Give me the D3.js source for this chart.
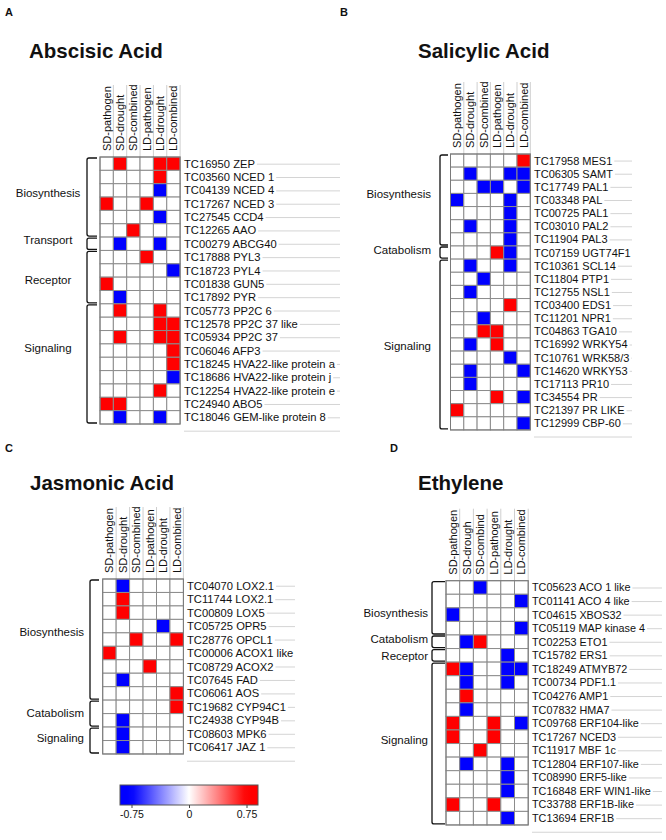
<!DOCTYPE html>
<html><head><meta charset="utf-8">
<script src="https://cdn.jsdelivr.net/npm/d3@7"></script>
<style>body{margin:0;background:#fff}text{font-family:Arial,"Liberation Sans",sans-serif;fill:#111}</style>
</head><body>
<svg id="c" width="666" height="840"></svg>
<script>
// ---------------- data ----------------
const conditions = ["SD-pathogen","SD-drought","SD-combined","LD-pathogen","LD-drought","LD-combined"];
const conditionsD = ["SD-pathogen","SD-drough","SD-combind","LD-pathogen","LD-drought","LD-combined"];

const abaGenes = ["TC16950 ZEP","TC03560 NCED 1","TC04139 NCED 4","TC17267 NCED 3","TC27545 CCD4","TC12265 AAO","TC00279 ABCG40","TC17888 PYL3","TC18723 PYL4","TC01838 GUN5","TC17892 PYR","TC05773 PP2C 6","TC12578 PP2C 37 like","TC05934 PP2C 37","TC06046 AFP3","TC18245 HVA22-like protein a","TC18686 HVA22-like protein j","TC12254 HVA22-like protein e","TC24940 ABO5","TC18046 GEM-like protein 8"];
const abaValues = [
 [0,0.75,0,0,0.75,0.75],[0,0,0,0,0.75,0],[0,0,0,0,-0.75,0],[0.75,0,0,0.75,0,0],
 [0,0,0,0,-0.75,0],[0,0,0.75,0,0,0],[0,-0.75,0,0,-0.75,0],[0,0,0,0.75,0,0],
 [0,0,0,0,0,-0.75],[0.75,0,0,0,0,0],[0,-0.75,0,0,0,0],[0,0.75,0,0,0.75,0],
 [0,0,0,0,0.75,0.75],[0,0.75,0,0,0.75,0.75],[0,0,0,0,0,0.75],[0,0,0,0,0,0.75],
 [0,0,0,0,0,-0.75],[0,0,0,0,0.75,0],[0.75,0.75,0,0,0,0],[0,-0.75,0,0,-0.75,0]];
const abaGroups = [
 {name:"Biosynthesis",from:0,to:5,at:2.7},{name:"Transport",from:6,to:6,at:6.2},
 {name:"Receptor",from:7,to:10,at:9.2},{name:"Signaling",from:11,to:19,at:14.3}];

const saGenes = ["TC17958 MES1","TC06305 SAMT","TC17749 PAL1","TC03348 PAL","TC00725 PAL1","TC03010 PAL2","TC11904 PAL3","TC07159 UGT74F1","TC10361 SCL14","TC11804 PTP1","TC12755 NSL1","TC03400 EDS1","TC11201 NPR1","TC04863 TGA10","TC16992 WRKY54","TC10761 WRK58/3","TC14620 WRKY53","TC17113 PR10","TC34554 PR","TC21397 PR LIKE","TC12999 CBP-60"];
const saValues = [
 [0,0,0,0,0,0.75],[0,-0.75,0,0,-0.75,-0.75],[0,0,-0.75,-0.75,0,-0.75],[-0.75,0,0,0,-0.75,0],
 [0,0,0,0,-0.75,0],[0,-0.75,0,0,-0.75,0],[0,0,0,0,-0.75,0],[0,0,0,0.75,-0.75,0],
 [0,-0.75,0,0,-0.75,0],[0,0,-0.75,0,0,0],[0,-0.75,0,0,0,0],[0,0,0,0,0.75,0],
 [0,0,-0.75,0,0,0],[0,0,0.75,0.75,0,0],[0,-0.75,0,0.75,0,0],[0,0,0,0,-0.75,0],
 [0,-0.75,0,0,0,-0.75],[0,-0.75,0,0,0,0],[0,0,0,0.75,0,-0.75],[0.75,0,0,0,0,0],
 [0,0,0,0,0,-0.75]];
const saGroups = [
 {name:"Biosynthesis",from:0,to:6,at:3.04},{name:"Catabolism",from:7,to:7,at:7.3},
 {name:"Signaling",from:8,to:20,at:14.6}];

const jaGenes = ["TC04070 LOX2.1","TC11744 LOX2.1","TC00809 LOX5","TC05725 OPR5","TC28776 OPCL1","TC00006 ACOX1 like","TC08729 ACOX2","TC07645 FAD","TC06061 AOS","TC19682 CYP94C1","TC24938 CYP94B","TC08603 MPK6","TC06417 JAZ 1"];
const jaValues = [
 [0,-0.75,0,0,0,0],[0,0.75,0,0,0,0],[0,0.75,0,0,0,0],[0,0,0,0,-0.75,0],
 [0,0,0.75,0,0,0.75],[0.75,0,0,0,0,0],[0,0,0,0.75,0,0],[0,-0.75,0,0,0,0],
 [0,0,0,0,0,0.75],[0,0,0,0,0,0.75],[0,-0.75,0,0,0,0],[0,-0.75,0,0,0,0],
 [0,-0.75,0,0,0,0]];
const jaGroups = [
 {name:"Biosynthesis",from:0,to:8,at:3.94},{name:"Catabolism",from:9,to:10,at:9.96},
 {name:"Signaling",from:11,to:12,at:11.8}];

const etGenes = ["TC05623 ACO 1 like","TC01141 ACO 4 like","TC04615 XBOS32","TC05119 MAP kinase 4","TC02253 ETO1","TC15782 ERS1","TC18249 ATMYB72","TC00734 PDF1.1","TC04276 AMP1","TC07832 HMA7","TC09768 ERF104-like","TC17267 NCED3","TC11917 MBF 1c","TC12804 ERF107-like","TC08990 ERF5-like","TC16848 ERF WIN1-like","TC33788 ERF1B-like","TC13694 ERF1B"];
const etValues = [
 [0,0,-0.75,0,0,0],[0,0,0,0,0,-0.75],[-0.75,0,0,0,0,0],[0,0,0,0,0,-0.75],
 [0,-0.75,0.75,0,0,0],[0,0,0,0,-0.75,0],[0.75,-0.75,0,0,-0.75,-0.75],[0,-0.75,0,0,-0.75,0],
 [0,0.75,0,0,0,0],[0,-0.75,0,0,0,0],[0.75,0,0,0.75,0,-0.75],[0.75,0,0,0.75,0,0],
 [0,0,0.75,0,0,0],[0,-0.75,0,0,-0.75,0],[0,0,0,0,-0.75,0],[0,0,0,0,-0.75,0],
 [0.75,0,0,0.75,0,0],[0,0,0,0,-0.75,0]];
const etGroups = [
 {name:"Biosynthesis",from:0,to:3,at:2.38},{name:"Catabolism",from:4,to:4,at:4.3},
 {name:"Receptor",from:5,to:5,at:5.55},{name:"Signaling",from:6,to:17,at:11.7}];

const colorDomain = [-0.75, 0, 0.75];
const colorRange = ["#0000ff", "#ffffff", "#ff0000"];
const legendTicks = [-0.75, 0, 0.75];
const legendTickLabels = ["-0.75", "0", "0.75"];

// ---------------- drawing ----------------
const svg = d3.select("#c");
const defs = svg.append("defs");
const color = d3.scaleLinear().domain(colorDomain).range(colorRange).clamp(true);

function panel(cfg, cols, genes, values, groups) {
  const g = svg.append("g");
  if (cfg.clip) {
    const id = "clip" + cfg.letter;
    defs.append("clipPath").attr("id", id).append("rect")
      .attr("x", cfg.clip[0]).attr("y", 0).attr("width", cfg.clip[1] - cfg.clip[0]).attr("height", 840);
    g.attr("clip-path", `url(#${id})`);
  }
  const nC = cols.length, nR = genes.length;
  const x = d3.scaleBand().domain(d3.range(nC)).range([cfg.x0, cfg.x0 + cfg.cw * nC]);
  const y = d3.scaleBand().domain(d3.range(nR)).range([cfg.y0, cfg.y0 + cfg.rh * nR]);
  const bx = i => cfg.x0 + i * x.bandwidth();
  const by = i => cfg.y0 + i * y.bandwidth();

  g.append("text").attr("x", cfg.letterX).attr("y", cfg.letterY)
    .attr("font-weight", "bold").attr("font-size", 11).text(cfg.letter);
  g.append("text").attr("x", cfg.titleX).attr("y", cfg.titleY)
    .attr("font-weight", "bold").attr("font-size", 20.5).text(cfg.title);

  // header separators
  g.append("g").selectAll("line").data(d3.range(1, nC + 1)).join("line")
    .attr("x1", i => bx(i)).attr("x2", i => bx(i))
    .attr("y1", cfg.y0 - 72).attr("y2", cfg.y0)
    .attr("stroke", "#cfcfcf").attr("stroke-width", 1);

  // header labels
  g.append("g").selectAll("text").data(cols).join("text")
    .attr("transform", (d, i) => `translate(${x(i) + x.bandwidth() / 2 + 4},${cfg.y0 - 6}) rotate(-90)`)
    .attr("font-size", 11).attr("fill", "#222").text(d => d);

  // row guide lines + labels
  const lineG = g.append("g");
  const labG = g.append("g");
  labG.selectAll("text").data(genes).join("text")
    .attr("x", cfg.labelX).attr("y", (d, i) => y(i) + y.bandwidth() / 2)
    .attr("dy", "0.36em").attr("font-size", cfg.fs).attr("fill", "#1a1a1a").text(d => d)
    .each(function (d, i) {
      const w = this.getComputedTextLength();
      const yy = y(i) + y.bandwidth() / 2 + 0.5;
      if (cfg.labelX + w + 2 < cfg.lineEnd)
        lineG.append("line").attr("x1", cfg.labelX + w + 2).attr("x2", cfg.lineEnd)
          .attr("y1", yy).attr("y2", yy).attr("stroke", "#d4d4d4");
    });
  const yLast = by(nR) + y.bandwidth() / 2 + 0.5;
  lineG.append("line").attr("x1", cfg.labelX).attr("x2", cfg.lineEnd)
    .attr("y1", yLast).attr("y2", yLast).attr("stroke", "#d4d4d4");

  // cells
  const cells = [];
  values.forEach((row, r) => row.forEach((v, c) => cells.push({ r, c, v })));
  g.append("g").selectAll("rect").data(cells).join("rect")
    .attr("x", d => x(d.c)).attr("y", d => y(d.r))
    .attr("width", x.bandwidth()).attr("height", y.bandwidth())
    .attr("fill", d => color(d.v)).attr("stroke", "#8c8c8c").attr("stroke-width", 1);
  g.append("rect").attr("x", bx(0)).attr("y", by(0))
    .attr("width", bx(nC) - bx(0)).attr("height", by(nR) - by(0))
    .attr("fill", "none").attr("stroke", "#7a7a7a").attr("stroke-width", 1);

  // brackets
  const bk = cfg.bracketX, bw = cfg.bracketW;
  g.append("g").selectAll("path").data(groups).join("path")
    .attr("d", d => {
      const t = by(d.from) + 1, b = by(d.to + 1) - 1;
      return `M${bk + bw},${t} L${bk + 2},${t} Q${bk},${t} ${bk},${t + 2} L${bk},${b - 2} Q${bk},${b} ${bk + 2},${b} L${bk + bw},${b}`;
    })
    .attr("fill", "none").attr("stroke", "#111").attr("stroke-width", 1.3);

  g.append("g").selectAll("text").data(groups).join("text")
    .attr("x", cfg.groupX).attr("y", d => cfg.y0 + d.at * y.bandwidth())
    .attr("dy", "0.36em").attr("text-anchor", cfg.groupAnchor)
    .attr("font-size", 11.5).text(d => d.name);
}

panel({letter:"A", letterX:5, letterY:16, title:"Abscisic Acid", titleX:29, titleY:58,
  x0:100, cw:13.35, y0:157, rh:13.35, labelX:184, fs:11.2, lineEnd:340, clip:[0,341],
  bracketX:87, bracketW:10, groupX:48, groupAnchor:"middle"},
  conditions, abaGenes, abaValues, abaGroups);

panel({letter:"B", letterX:340, letterY:16, title:"Salicylic Acid", titleX:418, titleY:58,
  x0:450.5, cw:13.3, y0:154, rh:13.14, labelX:534, fs:11, lineEnd:632,
  bracketX:440, bracketW:8, groupX:431, groupAnchor:"end"},
  conditions, saGenes, saValues, saGroups);

panel({letter:"C", letterX:5, letterY:452, title:"Jasmonic Acid", titleX:30, titleY:490,
  x0:102.7, cw:13.45, y0:579, rh:13.46, labelX:187, fs:11.2, lineEnd:295,
  bracketX:90, bracketW:9, groupX:84, groupAnchor:"end"},
  conditions, jaGenes, jaValues, jaGroups);

panel({letter:"D", letterX:390, letterY:452, title:"Ethylene", titleX:418, titleY:490,
  x0:446, cw:13.7, y0:580.7, rh:13.57, labelX:532, fs:10.8, lineEnd:662,
  bracketX:432, bracketW:13, groupX:428, groupAnchor:"end"},
  conditionsD, etGenes, etValues, etGroups);

// ---------------- colour bar ----------------
const cbX = d3.scaleLinear().domain([-0.9, 0.9]).range([120, 258]);
const grad = defs.append("linearGradient").attr("id", "cbg").attr("x1", "0%").attr("x2", "100%");
d3.range(0, 1.0001, 0.05).forEach(t => {
  const v = cbX.invert(120 + t * 138);
  grad.append("stop").attr("offset", (t * 100) + "%").attr("stop-color", color(v));
});
const cbY = 785, cbH = 20;
svg.append("rect").attr("x", cbX.range()[0]).attr("y", cbY)
  .attr("width", cbX.range()[1] - cbX.range()[0]).attr("height", cbH)
  .attr("fill", "url(#cbg)").attr("stroke", "#555").attr("stroke-width", 1);
const ax = svg.append("g").attr("transform", `translate(0,${cbY + cbH})`)
  .call(d3.axisBottom(cbX).tickValues(legendTicks).tickSize(3)
    .tickFormat((d, i) => legendTickLabels[i]));
ax.select(".domain").remove();
ax.selectAll("text").attr("font-size", 10.5).attr("fill", "#222")
  .style("font-family", "Arial, 'Liberation Sans', sans-serif");
ax.selectAll("line").attr("stroke", "#444");
</script>
</body></html>
